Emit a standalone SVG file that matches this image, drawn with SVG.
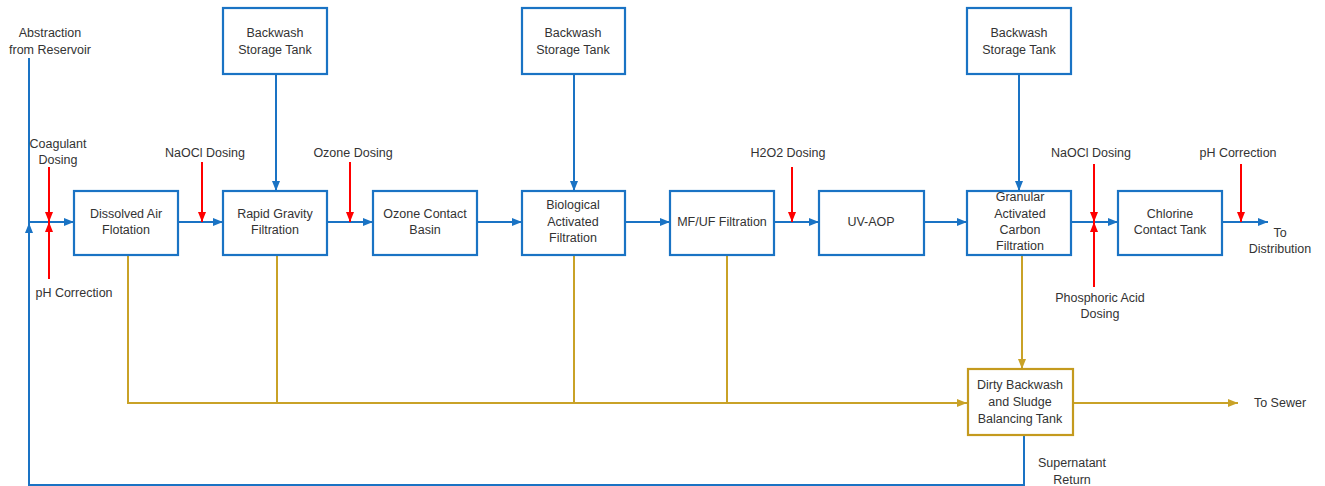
<svg xmlns="http://www.w3.org/2000/svg" width="1325" height="486" viewBox="0 0 1325 486">
<defs>
<style>
.bx{fill:#fff;stroke:#1a73c4;stroke-width:2.2}
.gbx{fill:#fff;stroke:#c49a1e;stroke-width:2.2}
.bl{fill:none;stroke:#1a73c4;stroke-width:2}
.gl{fill:none;stroke:#c9a227;stroke-width:2}
.rl{fill:none;stroke:#ff0000;stroke-width:2}
text{font-family:"Liberation Sans",Arial,sans-serif;font-size:12.5px;fill:#333;text-anchor:middle;dominant-baseline:central}
</style>
<marker id="ab" markerUnits="userSpaceOnUse" markerWidth="10" markerHeight="10" refX="10" refY="5" orient="auto"><path d="M0,1 L10,5 L0,9 z" fill="#1a73c4"/></marker>
<marker id="ag" markerUnits="userSpaceOnUse" markerWidth="10" markerHeight="10" refX="10" refY="5" orient="auto"><path d="M0,1 L10,5 L0,9 z" fill="#c9a227"/></marker>
<marker id="ar" markerUnits="userSpaceOnUse" markerWidth="10" markerHeight="10" refX="10" refY="5" orient="auto"><path d="M0,1 L10,5 L0,9 z" fill="#ff0000"/></marker>
</defs>
<rect width="1325" height="486" fill="#fff"/>
<g id="connectors">
<path class="bl" d="M29,58 V222 H74" marker-end="url(#ab)"/>
<path class="bl" d="M1024,435 V485 H29 V223" marker-end="url(#ab)"/>
<path class="bl" d="M178,222 H223" marker-end="url(#ab)"/>
<path class="bl" d="M327,222 H373" marker-end="url(#ab)"/>
<path class="bl" d="M477,222 H522" marker-end="url(#ab)"/>
<path class="bl" d="M625,222 H670" marker-end="url(#ab)"/>
<path class="bl" d="M774,222 H819" marker-end="url(#ab)"/>
<path class="bl" d="M924,222 H967" marker-end="url(#ab)"/>
<path class="bl" d="M1071,222 H1118" marker-end="url(#ab)"/>
<path class="bl" d="M1222,222 H1268" marker-end="url(#ab)"/>
<path class="bl" d="M276,74 V191" marker-end="url(#ab)"/>
<path class="bl" d="M574,74 V191" marker-end="url(#ab)"/>
<path class="bl" d="M1019,74 V191" marker-end="url(#ab)"/>
<path class="gl" d="M128,255 V403 H967" marker-end="url(#ag)"/>
<path class="gl" d="M277,255 V403"/>
<path class="gl" d="M574,255 V403"/>
<path class="gl" d="M727,255 V403"/>
<path class="gl" d="M1022,255 V369" marker-end="url(#ag)"/>
<path class="gl" d="M1073,403 H1238" marker-end="url(#ag)"/>
<path class="rl" d="M49,167 V222" marker-end="url(#ar)"/>
<path class="rl" d="M49,279 V222" marker-end="url(#ar)"/>
<path class="rl" d="M202,162 V222" marker-end="url(#ar)"/>
<path class="rl" d="M350,162 V222" marker-end="url(#ar)"/>
<path class="rl" d="M792,167 V222" marker-end="url(#ar)"/>
<path class="rl" d="M1094,164 V222" marker-end="url(#ar)"/>
<path class="rl" d="M1094,287 V222" marker-end="url(#ar)"/>
<path class="rl" d="M1241,164 V222" marker-end="url(#ar)"/>
</g>
<g id="labels">
<text x="50" y="33">Abstraction</text>
<text x="50" y="50">from Reservoir</text>
<text x="58" y="144">Coagulant</text>
<text x="58" y="160">Dosing</text>
<text x="74" y="293">pH Correction</text>
<text x="205" y="153">NaOCl Dosing</text>
<text x="353" y="153">Ozone Dosing</text>
<text x="788" y="153">H2O2 Dosing</text>
<text x="1091" y="153">NaOCl Dosing</text>
<text x="1238" y="153">pH Correction</text>
<text x="1100" y="298">Phosphoric Acid</text>
<text x="1100" y="314">Dosing</text>
<text x="1280" y="233">To</text>
<text x="1280" y="249">Distribution</text>
<text x="1280" y="403">To Sewer</text>
<text x="1072" y="463">Supernatant</text>
<text x="1072" y="480">Return</text>
</g>
<g id="bw1"><rect class="bx" x="223" y="8" width="104" height="66"/><text x="275" y="33">Backwash</text><text x="275" y="50">Storage Tank</text></g>
<g id="bw2"><rect class="bx" x="522" y="8" width="103" height="66"/><text x="573" y="33">Backwash</text><text x="573" y="50">Storage Tank</text></g>
<g id="bw3"><rect class="bx" x="967" y="8" width="104" height="66"/><text x="1019" y="33">Backwash</text><text x="1019" y="50">Storage Tank</text></g>
<g id="daf"><rect class="bx" x="74" y="191" width="104" height="64"/><text x="126" y="214">Dissolved Air</text><text x="126" y="230">Flotation</text></g>
<g id="rgf"><rect class="bx" x="223" y="191" width="104" height="64"/><text x="275" y="214">Rapid Gravity</text><text x="275" y="230">Filtration</text></g>
<g id="ozone"><rect class="bx" x="373" y="191" width="104" height="64"/><text x="425" y="214">Ozone Contact</text><text x="425" y="230">Basin</text></g>
<g id="baf"><rect class="bx" x="522" y="191" width="103" height="64"/><text x="573" y="205">Biological</text><text x="573" y="222">Activated</text><text x="573" y="238">Filtration</text></g>
<g id="mfuf"><rect class="bx" x="670" y="191" width="104" height="64"/><text x="722" y="222">MF/UF Filtration</text></g>
<g id="uvaop"><rect class="bx" x="819" y="191" width="105" height="64"/><text x="871" y="222">UV-AOP</text></g>
<g id="gac"><rect class="bx" x="967" y="191" width="104" height="64"/><text x="1020" y="197">Granular</text><text x="1020" y="214">Activated</text><text x="1020" y="230">Carbon</text><text x="1020" y="246">Filtration</text></g>
<g id="cct"><rect class="bx" x="1118" y="191" width="104" height="64"/><text x="1170" y="214">Chlorine</text><text x="1170" y="230">Contact Tank</text></g>
<g id="dirty"><rect class="gbx" x="968" y="369" width="105" height="66"/><text x="1020" y="385">Dirty Backwash</text><text x="1020" y="402">and Sludge</text><text x="1020" y="419">Balancing Tank</text></g>
</svg>
